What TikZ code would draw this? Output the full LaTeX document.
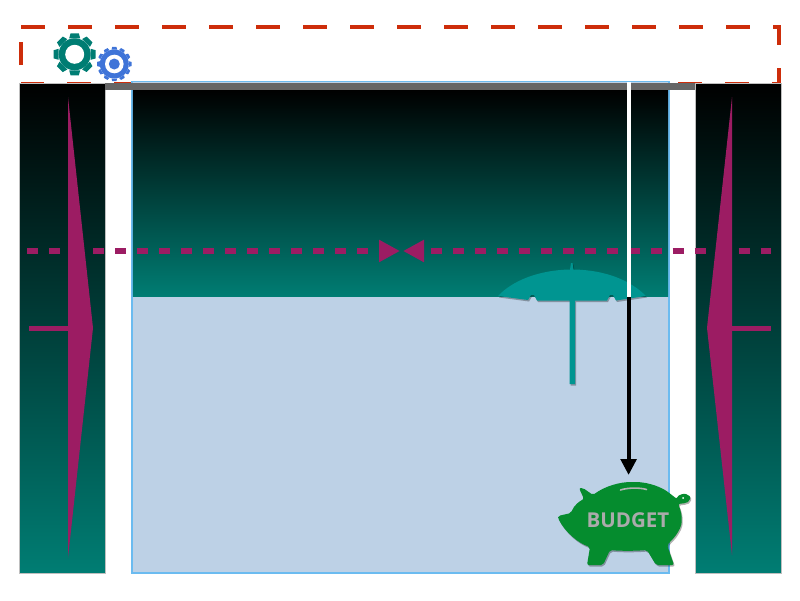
\documentclass[tikz,border=0pt]{standalone}
\usepackage{fontspec}
\newfontfamily\budgetfont{Open Sans}
\usetikzlibrary{arrows.meta, shadows}
\definecolor{deepteal}{RGB}{0,125,115}
\definecolor{brella}{RGB}{0,149,145}
\definecolor{plum}{RGB}{156,28,99}
\definecolor{alarm}{RGB}{205,45,10}
\definecolor{plan}{RGB}{189,209,230}
\definecolor{planedge}{RGB}{107,187,240}
\definecolor{cogblue}{RGB}{63,116,216}
\definecolor{piggreen}{RGB}{5,140,46}
\newcommand{\cogwheel}[6]{
	\foreach \a in {1,...,#5}{
		\fill[#2,shift={(#1)},rotate=\a*360/#5] (-#6,-#3) -- (-#6*0.75,-#4) -- (#6*0.75,-#4) -- (#6,-#3) -- cycle;
	}
	\fill[#2] (#1) circle (#3);
}
\tikzset{
	column/.style={top color=black, bottom color=deepteal, draw=gray!50, line width=.5pt},
	kite/.style={fill=plum},
	stub/.style={draw=plum, line width=5pt},
	span/.style={draw=plum, line width=6pt, dash pattern=on 11pt off 11pt},
	soft/.style={drop shadow={shadow xshift=1pt, shadow yshift=-1.5pt, opacity=.3, fill=black}},
	fence/.style={draw=alarm, line width=4.5pt, dash pattern=on 23.5pt off 23.5pt}
}
\begin{document}
\begin{tikzpicture}[x=1pt,y=-1pt]
\useasboundingbox (0,0) rectangle (800,600);

% dashed frame round the top strip
\draw[fence] (21,27) -- (779,27) -- (779,84.5) -- (21,84.5);
\draw[fence] (21,65) -- (21,42);

% cogs
\cogwheel{74.7,54.3}{deepteal}{16}{21}{8}{5.5}
\fill[white] (74.7,54.3) circle (9.5);
\cogwheel{114.3,64}{cogblue}{14.5}{17.2}{12}{2.8}
\fill[white] (114.3,64) circle (9.3);
\fill[cogblue] (114.3,64) circle (5.5);

% side columns, main area
\fill[column] (19,83) rectangle (105,573);
\fill[column] (695,83) rectangle (781,573);
\draw[fill=plan, draw=planedge, line width=1.5pt] (132,81.5) rectangle (669,573);
\fill[top color=black, bottom color=deepteal] (132.8,90) rectangle (668.2,296.5);
\fill[black!60] (105,83) rectangle (695,90);

% kites and their stubs
\fill[kite] (68,97) -- (93,328) -- (68,558) -- cycle;
\fill[kite] (732,97) -- (707,328) -- (732,555) -- cycle;
\draw[stub] (29,328) -- (68,328);
\draw[stub] (771,328) -- (732,328);

% level line
\draw[span, -{Triangle[length=21pt,width=21pt]}] (27,251) -- (400,251);
\draw[span, dash phase=14pt, {Triangle[length=21pt,width=21pt]}-] (403,251) -- (771,251);

% umbrella
\fill[brella, soft] (571,263) -- (572.5,263) -- (573.5,269.5)
	.. controls (605,270) and (630,280) .. (646,296)
	-- (616,300.5) -- (613,295) -- (610,295) -- (607,300.5)
	-- (575,300.5) -- (575,384) -- (569.5,384) -- (569.5,300.5)
	-- (537,300.5) -- (534,295) -- (531,295) -- (528,300)
	-- (498,296)
	.. controls (513,280) and (540,270) .. (570,269.5) -- cycle;

% shaft and arrow
\coordinate (top) at (628.6,82);
\coordinate (rim) at (628.6,297);
\coordinate (slot) at (628.6,475);
\draw[white, line width=4pt] (top) -- (rim);
\draw[black, line width=4pt, -{Triangle[length=16pt,width=15.5pt]}] (rim) -- (slot);

% piggy bank
\fill[piggreen, soft, rounded corners=2pt] (579,488) -- (583,488) -- (593,495)
	.. controls (605,486) and (620,482) .. (633,482)
	.. controls (650,482) and (662,488) .. (668,492)
	-- (677,499)
	.. controls (678,495) and (684,493) .. (688,495)
	.. controls (691,497) and (690,501) .. (686,503)
	-- (678,504)
	.. controls (683,515) and (682,525) .. (679,530)
	.. controls (676,536) and (671,541) .. (667,545)
	-- (674,565) -- (656,565) -- (647,550)
	.. controls (635,551) and (620,551) .. (610,550)
	-- (603,565) -- (587,565) -- (590,547)
	.. controls (578,543) and (565,532) .. (558,518)
	-- (558,516) -- (571,513)
	.. controls (574,505) and (580,501) .. (584,499)
	-- cycle;
\fill[white] (683,498) circle (1);
\draw[black!30, line width=1.6pt, line cap=round] (620.5,490) .. controls (628,487.5) and (640,487.5) .. (646.5,489.5);
\node[text=black!33, font=\budgetfont\bfseries\fontsize{20.5}{20.5}\selectfont, inner sep=0pt] (budget) at (628,520) {BUDGET};
\end{tikzpicture}
\end{document}
